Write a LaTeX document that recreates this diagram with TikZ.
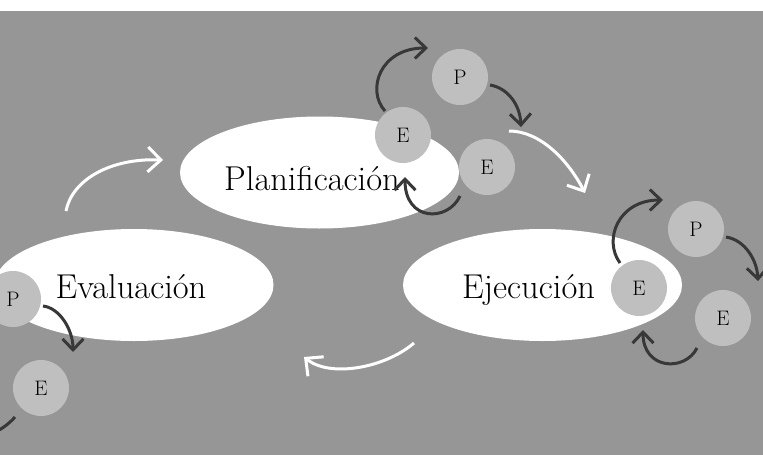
\documentclass[tikz,border=0pt]{standalone}
\usetikzlibrary{arrows.meta,shapes.geometric}
\definecolor{bggray}{RGB}{150,150,150}
\definecolor{circgray}{RGB}{191,191,191}
\definecolor{darkarrow}{RGB}{56,56,56}
\tikzset{
  phase/.style={ellipse, fill=white, minimum width=279pt, minimum height=112pt, inner sep=0pt},
  phasetext/.style={anchor=base, font=\fontsize{34.5}{38}\selectfont, text=black, inner sep=0pt},
  sub/.style={circle, fill=circgray, minimum size=56pt, inner sep=0pt, font=\fontsize{21}{24}\selectfont, text=black},
  darr/.style={draw=darkarrow, line width=3pt, -{Straight Barb[length=11pt,width=21pt]}},
  warr/.style={draw=white, line width=3pt, -{Straight Barb[length=13pt,width=25pt]}},
  dline/.style={draw=darkarrow, line width=3pt},
}
\begin{document}
\begin{tikzpicture}[x=1pt,y=-1pt]
\useasboundingbox (0,0) rectangle (763,455);
\clip (0,0) rectangle (763,455);
\fill[white] (0,0) rectangle (763,11);
\fill[bggray] (0,11) rectangle (763,455);

% main phases
\node[phase] (plan) at (319.5,172.5) {};
\node[phase] (ejec) at (542.5,285) {};
\node[phase] (eval) at (134,285) {};
\node[phasetext] (tplan) at (312,190) {Planificación};
\node[phasetext] (tejec) at (528.5,298) {Ejecución};
\node[phasetext] (teval) at (131,298) {Evaluación};

% sub cycles
\node[sub] (planP)  at (460,77)  {P};
\node[sub] (planE1) at (403,135) {E};
\node[sub] (planE2) at (487,167) {E};
\node[sub] (ejecP)  at (696,229) {P};
\node[sub] (ejecE1) at (639,288) {E};
\node[sub] (ejecE2) at (723,318) {E};
\node[sub] (evalP)  at (13,299)  {P};
\node[sub] (evalE)  at (41,388)  {E};

% connector end points
\coordinate (a1s) at (385,111); \coordinate (a1e) at (428,48);
\coordinate (a2s) at (490,85);  \coordinate (a2e) at (521,127);
\coordinate (a3s) at (460,196); \coordinate (a3e) at (405,177);
\coordinate (b1s) at (620,263); \coordinate (b1e) at (663,200);
\coordinate (b2s) at (726,237); \coordinate (b2e) at (758,281);
\coordinate (b3s) at (697,348); \coordinate (b3e) at (643,330);
\coordinate (c1s) at (43,306);  \coordinate (c1e) at (73,352);
\coordinate (c2s) at (15,417);  \coordinate (c2e) at (-10,435);
\coordinate (w1s) at (509,131); \coordinate (w1e) at (585,193);
\coordinate (w2s) at (414,343); \coordinate (w2e) at (304,357);
\coordinate (w3s) at (66,211);  \coordinate (w3e) at (163,160);

% dark sub-cycle arrows
\draw[darr] (a1s) .. controls (366,90) and (380,48) .. (a1e);
\draw[darr] (a2s) .. controls (508,88) and (520,105) .. (a2e);
\draw[darr] (a3s) .. controls (448,222) and (405,222) .. (a3e);
\draw[darr] (b1s) .. controls (603,240) and (618,200) .. (b1e);
\draw[darr] (b2s) .. controls (745,240) and (757,260) .. (b2e);
\draw[darr] (b3s) .. controls (685,372) and (643,370) .. (b3e);
\draw[darr] (c1s) .. controls (60,308) and (73,330) .. (c1e);
\draw[dline] (c2s) .. controls (8,425) and (0,430) .. (c2e);

% white main-cycle arrows
\draw[warr] (w1s) .. controls (540,131) and (568,160) .. (w1e);
\draw[warr] (w2s) .. controls (385,368) and (330,378) .. (w2e);
\draw[warr] (w3s) .. controls (72,180) and (110,158) .. (w3e);
\end{tikzpicture}
\end{document}
